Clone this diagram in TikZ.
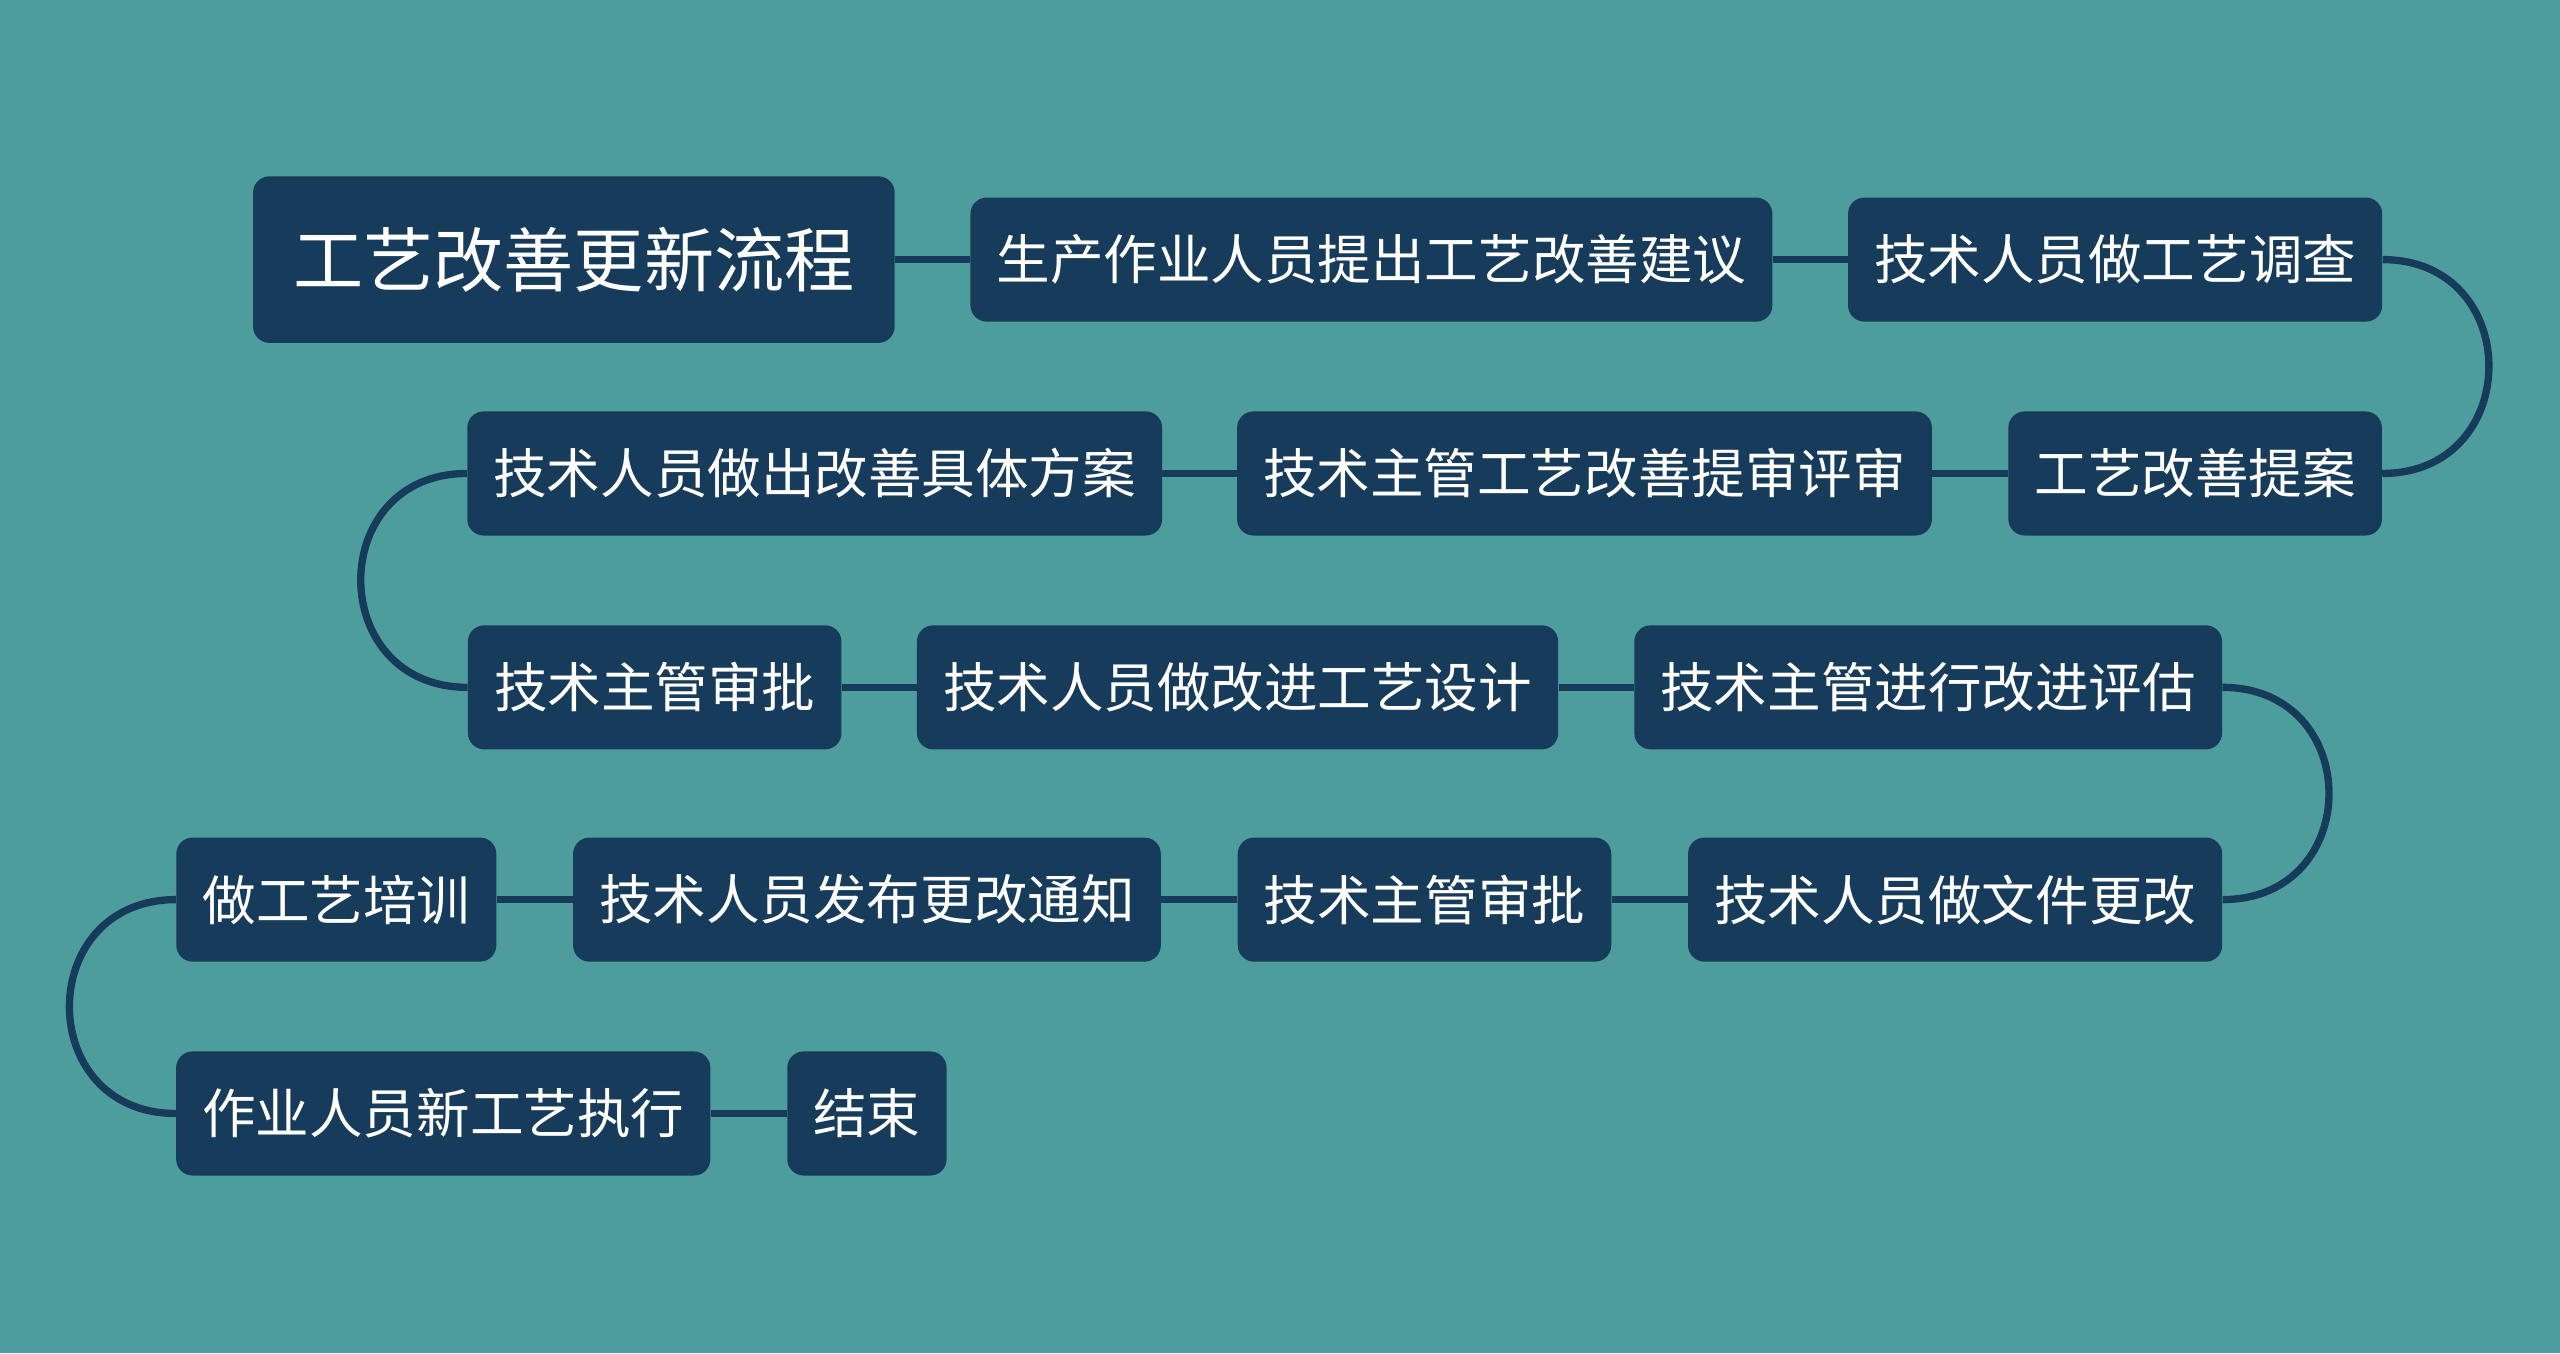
\documentclass[tikz,border=0pt]{standalone}
\usepackage{fontspec}
\setmainfont{Noto Sans CJK SC}
\usepackage{tikz}

\definecolor{bgteal}{HTML}{4E9D9D}
\definecolor{navy}{HTML}{173C5B}

\tikzset{
  stepbox/.style={fill=navy, rounded corners=10pt, text=white, inner xsep=16pt,
    minimum height=76pt, font=\fontsize{32.8}{36}\selectfont},
  titlebox/.style={stepbox, inner xsep=24.5pt, minimum height=102pt,
    font=\fontsize{43}{48}\selectfont},
  link/.style={draw=navy, line width=4.5pt}
}

\begin{document}
\begin{tikzpicture}[x=1pt,y=1pt,yscale=-1,xscale=1]
    % background
    \fill [bgteal] (0,0) rectangle (1568,829);
    \useasboundingbox (0,0) rectangle (1568,829);

    % row 1
    \draw (351.5,159) node [titlebox] (t) {工艺改善更新流程};
    \draw (840,159) node [stepbox] (n1) {生产作业人员提出工艺改善建议};
    \draw (1295.5,159) node [stepbox] (n2) {技术人员做工艺调查};
    % row 2
    \draw (1344.5,290) node [stepbox] (n3) {工艺改善提案};
    \draw (970.5,290) node [stepbox] (n4) {技术主管工艺改善提审评审};
    \draw (499,290) node [stepbox] (n5) {技术人员做出改善具体方案};
    % row 3
    \draw (401,421) node [stepbox] (n6) {技术主管审批};
    \draw (758,421) node [stepbox] (n7) {技术人员做改进工艺设计};
    \draw (1181,421) node [stepbox] (n8) {技术主管进行改进评估};
    % row 4
    \draw (1197.5,551) node [stepbox] (n9) {技术人员做文件更改};
    \draw (872.5,551) node [stepbox] (n10) {技术主管审批};
    \draw (531,551) node [stepbox] (n11) {技术人员发布更改通知};
    \draw (206,551) node [stepbox] (n12) {做工艺培训};
    % row 5
    \draw (271.5,682) node [stepbox] (n13) {作业人员新工艺执行};
    \draw (531,682) node [stepbox] (n14) {结束};

    % connectors
    \draw [link] (t.east) -- (n1.west);
    \draw [link] (n1.east) -- (n2.west);
    \draw [link] (n2.east) .. controls +(87,0) and +(87,0) .. (n3.east);
    \draw [link] (n3.west) -- (n4.east);
    \draw [link] (n4.west) -- (n5.east);
    \draw [link] (n5.west) .. controls +(-87,0) and +(-87,0) .. (n6.west);
    \draw [link] (n6.east) -- (n7.west);
    \draw [link] (n7.east) -- (n8.west);
    \draw [link] (n8.east) .. controls +(87,0) and +(87,0) .. (n9.east);
    \draw [link] (n9.west) -- (n10.east);
    \draw [link] (n10.west) -- (n11.east);
    \draw [link] (n11.west) -- (n12.east);
    \draw [link] (n12.west) .. controls +(-87,0) and +(-87,0) .. (n13.west);
    \draw [link] (n13.east) -- (n14.west);

\end{tikzpicture}
\end{document}
